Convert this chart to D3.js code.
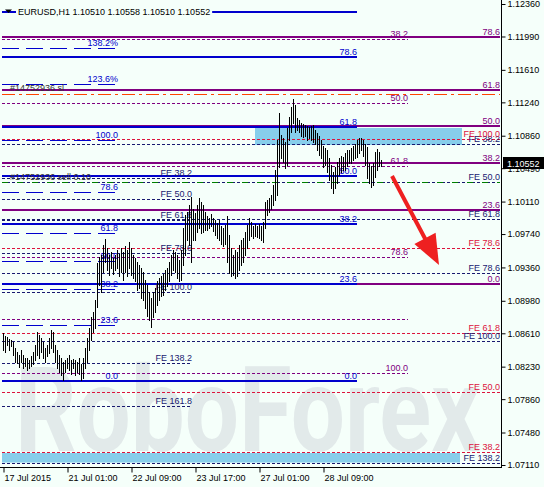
<!DOCTYPE html>
<html>
<head>
<meta charset="utf-8">
<title>EURUSD,H1</title>
<script src="https://cdn.jsdelivr.net/npm/d3@7"></script>
<style>
  body { margin: 0; background: #f5fffa; }
  svg { display: block; font-family: "Liberation Sans", Arial, sans-serif; }
</style>
</head>
<body>
<div id="chart"></div>
<script>
// ---- data ----
var title = "EURUSD,H1  1.10510 1.10558 1.10510 1.10552";
var lastPrice = 1.10552;

// H1 bars, one entry per hour (high / low)
var highs = [
  1.0861, 1.0858, 1.0857, 1.0855, 1.0853, 1.0851, 1.0844, 1.0840, 1.0836, 1.0842,
  1.0836, 1.0833, 1.0833, 1.0831, 1.0835, 1.0840, 1.0848, 1.0863, 1.0859, 1.0856,
  1.0851, 1.0844, 1.0848, 1.0856, 1.0865, 1.0863, 1.0848, 1.0842, 1.0836, 1.0833,
  1.0828, 1.0831, 1.0833, 1.0836, 1.0831, 1.0832, 1.0831, 1.0828, 1.0833, 1.0826,
  1.0833, 1.0844, 1.0856, 1.0867, 1.0879, 1.0885, 1.0899, 1.0941, 1.0948, 1.0950,
  1.0962, 1.0968, 1.0958, 1.0950, 1.0954, 1.0947, 1.0950, 1.0956, 1.0951, 1.0958,
  1.0954, 1.0960, 1.0956, 1.0965, 1.0958, 1.0950, 1.0947, 1.0942, 1.0939, 1.0935,
  1.0931, 1.0922, 1.0916, 1.0908, 1.0901, 1.0908, 1.0913, 1.0920, 1.0924, 1.0926,
  1.0929, 1.0933, 1.0935, 1.0942, 1.0950, 1.0956, 1.0954, 1.0950, 1.0945, 1.0956,
  1.0981, 1.0996, 1.0999, 1.1007, 1.1016, 1.1002, 1.0998, 1.1007, 1.1015, 1.1010,
  1.1007, 1.0999, 1.0995, 1.0992, 1.0997, 1.0992, 1.0990, 1.0987, 1.0990, 1.0983,
  1.0981, 1.0984, 1.0995, 1.0973, 1.0958, 1.0950, 1.0956, 1.0954, 1.0962, 1.0967,
  1.0970, 1.0976, 1.0984, 1.0992, 1.0988, 1.0983, 1.0986, 1.0983, 1.0986, 1.0983,
  1.0988, 1.1010, 1.1013, 1.1015, 1.1019, 1.1030, 1.1047, 1.1081, 1.1112, 1.1087,
  1.1083, 1.1079, 1.1095, 1.1107, 1.1119, 1.1128, 1.1121, 1.1106, 1.1104, 1.1101,
  1.1099, 1.1098, 1.1097, 1.1096, 1.1097, 1.1098, 1.1093, 1.1089, 1.1086, 1.1081,
  1.1074, 1.1072, 1.1070, 1.1061, 1.1053, 1.1045, 1.1050, 1.1056, 1.1061, 1.1063,
  1.1062, 1.1066, 1.1070, 1.1070, 1.1072, 1.1074, 1.1076, 1.1081, 1.1083, 1.1083,
  1.1081, 1.1077, 1.1073, 1.1055, 1.1052, 1.1055, 1.1068, 1.1071, 1.1068, 1.1058
];
var lows = [
  1.0842, 1.0840, 1.0848, 1.0842, 1.0847, 1.0836, 1.0828, 1.0827, 1.0823, 1.0828,
  1.0822, 1.0824, 1.0819, 1.0822, 1.0824, 1.0826, 1.0831, 1.0836, 1.0833, 1.0840,
  1.0833, 1.0828, 1.0835, 1.0838, 1.0844, 1.0840, 1.0828, 1.0822, 1.0817, 1.0814,
  1.0808, 1.0817, 1.0822, 1.0819, 1.0815, 1.0822, 1.0814, 1.0817, 1.0815, 1.0808,
  1.0810, 1.0822, 1.0828, 1.0842, 1.0853, 1.0863, 1.0867, 1.0891, 1.0916, 1.0908,
  1.0931, 1.0942, 1.0933, 1.0927, 1.0935, 1.0929, 1.0933, 1.0935, 1.0926, 1.0931,
  1.0922, 1.0931, 1.0926, 1.0935, 1.0927, 1.0924, 1.0920, 1.0910, 1.0913, 1.0901,
  1.0899, 1.0890, 1.0881, 1.0876, 1.0868, 1.0879, 1.0885, 1.0893, 1.0899, 1.0904,
  1.0905, 1.0910, 1.0915, 1.0920, 1.0927, 1.0933, 1.0931, 1.0924, 1.0920, 1.0922,
  1.0939, 1.0950, 1.0967, 1.0962, 1.0942, 1.0967, 1.0967, 1.0976, 1.0981, 1.0975,
  1.0976, 1.0979, 1.0979, 1.0981, 1.0983, 1.0978, 1.0973, 1.0970, 1.0967, 1.0963,
  1.0960, 1.0963, 1.0942, 1.0930, 1.0926, 1.0927, 1.0924, 1.0926, 1.0933, 1.0939,
  1.0942, 1.0950, 1.0958, 1.0967, 1.0972, 1.0970, 1.0972, 1.0971, 1.0970, 1.0967,
  1.0965, 1.0981, 1.0996, 1.0999, 1.1002, 1.1007, 1.1013, 1.1019, 1.1050, 1.1061,
  1.1056, 1.1049, 1.1053, 1.1081, 1.1090, 1.1101, 1.1090, 1.1093, 1.1090, 1.1086,
  1.1085, 1.1086, 1.1081, 1.1083, 1.1081, 1.1079, 1.1076, 1.1070, 1.1064, 1.1061,
  1.1050, 1.1053, 1.1045, 1.1036, 1.1027, 1.1021, 1.1027, 1.1032, 1.1041, 1.1045,
  1.1047, 1.1047, 1.1052, 1.1055, 1.1055, 1.1058, 1.1061, 1.1062, 1.1066, 1.1070,
  1.1063, 1.1053, 1.1038, 1.1032, 1.1028, 1.1030, 1.1039, 1.1047, 1.1052, 1.1052
];

var timeLabels = ["17 Jul 2015", "21 Jul 01:00", "22 Jul 09:00", "23 Jul 17:00", "27 Jul 01:00", "28 Jul 09:00"];
var timeLabelBars = [0, 32, 64, 96, 128, 160];
var priceTicks = [1.12360, 1.11990, 1.11610, 1.11240, 1.10860, 1.10490, 1.10110, 1.09740,
                  1.09360, 1.08980, 1.08610, 1.08230, 1.07860, 1.07480, 1.07110];

// fibo retracement, blue solid
var blueSolidLabels = ["78.6", "61.8", "50.0", "38.2", "23.6", "0.0"];
var blueSolidPrices = [1.11751, 1.10954, 1.10401, 1.09855, 1.09171, 1.08067];
var blueTopLine = 1.12269;
// fibo retracement, blue dashed
var blueDashLabels = ["138.2%", "123.6%", "100.0", "78.6", "61.8", "50.0", "38.2", "23.6", "0.0"];
var blueDashPrices = [1.11859, 1.11449, 1.10811, 1.10219, 1.09752, 1.09433, 1.09114, 1.08704, 1.08067];
// fibo retracement, purple solid
var purpleSolidLabels = ["78.6", "61.8", "50.0", "38.2", "23.6", "0.0"];
var purpleSolidPrices = [1.11984, 1.11386, 1.10965, 1.10544, 1.10015, 1.09171];
// fibo retracement, purple dotted
var purpleDashLabels = ["38.2", "50.0", "61.8", "78.6", "", "100.0"];
var purpleDashPrices = [1.11961, 1.11233, 1.10510, 1.09479, 1.08773, 1.08158];
// fibo expansion, navy, labels on the right
var navyRightLabels = ["FE 38.2", "FE 50.0", "FE 61.8", "FE 78.6", "FE 100.0", "FE 138.2"];
var navyRightPrices = [1.10766, 1.10333, 1.09912, 1.09302, 1.08522, 1.07133];
// fibo expansion, navy, short
var navyLeftLabels = ["FE 38.2", "FE 50.0", "FE 61.8", "FE 78.6", "FE 100.0", "FE 138.2", "FE 161.8"];
var navyLeftPrices = [1.10384, 1.10139, 1.09901, 1.09530, 1.09080, 1.08272, 1.07782];
// fibo expansion, crimson
var redLabels = ["FE 100.0", "FE 78.6", "FE 61.8", "FE 50.0", "FE 38.2"];
var redPrices = [1.10823, 1.09581, 1.08613, 1.07941, 1.07258];

// order lines
var orderSl = 1.11332, orderSlText = "#14752936 sl";
var orderOpen = 1.10333, orderOpenText = "#14752936 sell 0.10";

// target zones [fromBar, toBar, top, bottom]
var zones = [[126, 229.5, 1.10948, 1.10754], [-0.5, 228.5, 1.07247, 1.07138]];
// forecast arrow [bar, price]
var arrowFrom = [194.5, 1.10401], arrowTo = [218, 1.09388];

// ---- layout ----
var W = 544, H = 487, plotR = 501, plotB = 467;
var svg = d3.select("#chart").append("svg").attr("width", W).attr("height", H);
svg.append("rect").attr("width", W).attr("height", H).attr("fill", "#f5fffa");

var x = d3.scaleLinear().domain([0, 249]).range([3, 501]);
var y = d3.scaleLinear().domain([1.07110, 1.12360]).range([465, 4]);

function crisp(v, w) { return w % 2 ? Math.round(v) + 0.5 : Math.round(v); }

// watermark
svg.append("text")
  .attr("x", 15).attr("y", 451)
  .attr("textLength", 465).attr("lengthAdjust", "spacingAndGlyphs")
  .style("font-family", "Roboto, sans-serif").style("font-size", "118px").style("font-weight", "bold")
  .attr("fill", "#e2eaea")
  .text("RoboForex");

// zones
svg.append("g").selectAll("rect").data(zones).join("rect")
  .attr("x", d => x(d[0])).attr("width", d => x(d[1]) - x(d[0]))
  .attr("y", d => y(d[2])).attr("height", d => y(d[3]) - y(d[2]))
  .attr("fill", "#87ceeb");

var lineLayer = svg.append("g");
var labelLayer = svg.append("g").attr("font-size", 9);

function levels(labels, prices, o) {
  lineLayer.append("g").selectAll("line").data(prices).join("line")
    .attr("x1", x(o.from)).attr("x2", x(o.to))
    .attr("y1", d => crisp(y(d), o.width)).attr("y2", d => crisp(y(d), o.width))
    .attr("stroke", o.color).attr("stroke-width", o.width)
    .attr("stroke-dasharray", o.dash || null);
  labelLayer.append("g").selectAll("text").data(prices).join("text")
    .attr("x", x(o.to)).attr("y", d => Math.round(y(d)) - 2)
    .attr("text-anchor", "end").attr("fill", o.text || o.color)
    .text((d, i) => labels[i]);
}

levels(purpleDashLabels, purpleDashPrices, {from: -0.5, to: 202.5, color: "#800080", width: 1, dash: "3,2"});
levels(navyLeftLabels, navyLeftPrices, {from: -0.5, to: 94.5, color: "#191970", width: 1, dash: "3,2"});
levels(navyRightLabels, navyRightPrices, {from: -0.5, to: 248.5, color: "#191970", width: 1, dash: "3,2"});
levels(redLabels, redPrices, {from: -0.5, to: 248.5, color: "#dc143c", width: 1, dash: "3,2"});

// order lines
lineLayer.append("line")
  .attr("x1", x(-0.5)).attr("x2", x(248.5))
  .attr("y1", crisp(y(orderOpen), 1)).attr("y2", crisp(y(orderOpen), 1))
  .attr("stroke", "#008000").attr("stroke-dasharray", "6,9");
lineLayer.append("line")
  .attr("x1", x(-0.5)).attr("x2", x(248.5))
  .attr("y1", crisp(y(orderSl), 1)).attr("y2", crisp(y(orderSl), 1))
  .attr("stroke", "#ff4500").attr("stroke-dasharray", "13,4,3,4");

levels(blueDashLabels, blueDashPrices, {from: -0.5, to: 57.5, color: "#0000cd", width: 1, dash: "17,7"});
levels(purpleSolidLabels, purpleSolidPrices, {from: -0.5, to: 248.5, color: "#800080", width: 2});
levels(blueSolidLabels, blueSolidPrices, {from: -0.5, to: 177, color: "#0000cd", width: 2});
levels([""], [blueTopLine], {from: -0.5, to: 177, color: "#0000cd", width: 2});

labelLayer.append("text").attr("x", 10).attr("y", Math.round(y(orderSl)) - 3)
  .attr("fill", "#333").text(orderSlText);
labelLayer.append("text").attr("x", 10).attr("y", Math.round(y(orderOpen)) - 2)
  .attr("fill", "#333").text(orderOpenText);

// bars
svg.append("g").selectAll("line").data(highs).join("line")
  .attr("x1", (d, i) => Math.round(x(i)) + 0.5).attr("x2", (d, i) => Math.round(x(i)) + 0.5)
  .attr("y1", d => Math.round(y(d))).attr("y2", (d, i) => Math.round(y(lows[i])) + 1)
  .attr("stroke", "#000").attr("stroke-width", 1);

// forecast arrow
var ax0 = x(arrowFrom[0]), ay0 = y(arrowFrom[1]), ax1 = x(arrowTo[0]), ay1 = y(arrowTo[1]);
var len = Math.hypot(ax1 - ax0, ay1 - ay0), ux = (ax1 - ax0) / len, uy = (ay1 - ay0) / len;
var hl = 30, hw = 12;
var bx = ax1 - ux * hl, by = ay1 - uy * hl;
svg.append("line")
  .attr("x1", ax0).attr("y1", ay0).attr("x2", bx + ux * 4).attr("y2", by + uy * 4)
  .attr("stroke", "#ee2020").attr("stroke-width", 4);
svg.append("path")
  .attr("d", "M" + ax1 + "," + ay1 + "L" + (bx - uy * hw) + "," + (by + ux * hw) +
             "L" + (bx + uy * hw) + "," + (by - ux * hw) + "Z")
  .attr("fill", "#ee2020");

// axes
svg.append("line").attr("x1", plotR + 0.5).attr("x2", plotR + 0.5).attr("y1", 0).attr("y2", plotB + 1)
  .attr("stroke", "#000");
svg.append("line").attr("x1", 0).attr("x2", plotR + 1).attr("y1", plotB + 0.5).attr("y2", plotB + 0.5)
  .attr("stroke", "#000");

var yAxis = svg.append("g").attr("transform", "translate(" + (plotR + 0.5) + ",0)")
  .call(d3.axisRight(y).tickValues(priceTicks).tickFormat(d3.format(".5f")).tickSize(4).tickPadding(2));
yAxis.select(".domain").remove();
yAxis.attr("font-family", null).attr("font-size", 9);
yAxis.selectAll("text").attr("fill", "#000");

var xAxis = svg.append("g").attr("transform", "translate(0," + (plotB + 0.5) + ")")
  .call(d3.axisBottom(x).tickValues(timeLabelBars).tickFormat((d, i) => timeLabels[i]).tickSize(5).tickPadding(2));
xAxis.select(".domain").remove();
xAxis.attr("font-family", null).attr("font-size", 9);
xAxis.selectAll(".tick line").attr("transform", "translate(0.5,0)");
xAxis.selectAll("text").attr("text-anchor", "start").attr("dx", 1).attr("fill", "#000");

// last price box
var ly = y(lastPrice);
svg.append("rect").attr("x", plotR + 2).attr("y", Math.round(ly) - 6).attr("width", W - plotR - 2).attr("height", 12)
  .attr("fill", "#000");
svg.append("text").attr("x", plotR + 6).attr("y", Math.round(ly) + 3.5)
  .attr("font-size", 9).attr("fill", "#fff").text(d3.format(".5f")(lastPrice));

// title
var tg = svg.append("g");
var tbg = tg.append("rect").attr("fill", "#f5fffa");
var tt = tg.append("text").attr("x", 18).attr("y", 15).attr("font-size", 9).attr("fill", "#000").text(title);
var bb = tt.node().getBBox();
tbg.attr("x", bb.x - 2).attr("y", bb.y).attr("width", bb.width + 4).attr("height", bb.height);
tg.append("path").attr("d", "M5,9.5L12,9.5L8.5,13Z").attr("fill", "#000");
</script>
</body>
</html>
